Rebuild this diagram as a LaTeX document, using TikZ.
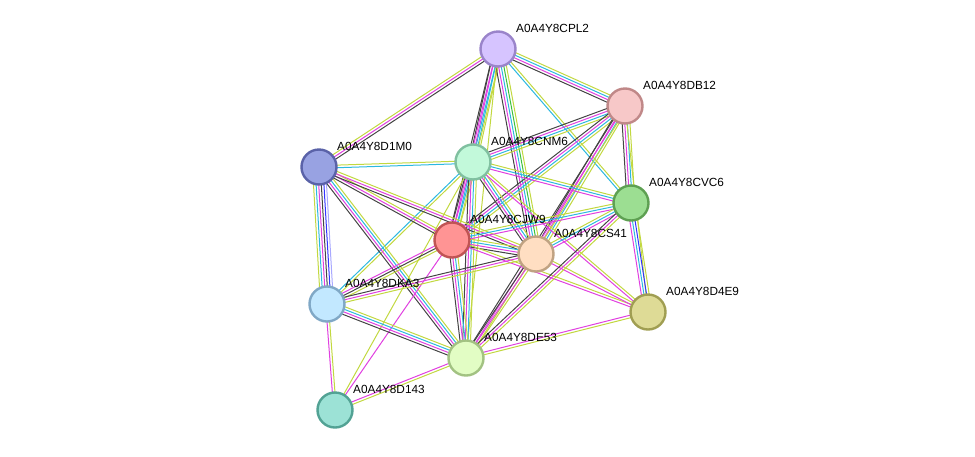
\documentclass[tikz,border=0pt]{standalone}
\usepackage{fontspec}
\setmainfont{Liberation Sans}
\usetikzlibrary{calc,backgrounds}

\definecolor{tm}{HTML}{C2D840}
\definecolor{ex}{HTML}{E040E0}
\definecolor{db}{HTML}{2CB8E0}
\definecolor{co}{HTML}{444444}
\definecolor{ne}{HTML}{3CC03C}
\definecolor{cc}{HTML}{3333FF}
\definecolor{ho}{HTML}{A8A8FF}

\tikzset{
  prot/.style={circle, minimum size=35pt, inner sep=0pt, line width=2.4pt},
  plabel/.style={anchor=west, inner sep=0pt, font=\fontsize{11.8}{13}\selectfont},
  linkline/.style={line width=1pt}
}

\newcommand{\link}[3]{%
  \foreach \c [count=\n] in {#3} {\xdef\linkn{\n}}%
  \foreach \c [count=\i] in {#3} {%
    \pgfmathsetmacro\off{(\i-(\linkn+1)/2)*2.6}%
    \draw[\c, linkline] ($(#1)!\off pt!90:(#2)$) -- ($(#2)!\off pt!-90:(#1)$);
  }%
}

\begin{document}
\begin{tikzpicture}[x=1pt,y=-1pt]
\useasboundingbox (0,0) rectangle (975,456);

\foreach \name/\x/\y/\f/\d/\t in {
  cpl/498/49/D6C4FF/9A84CA/A0A4Y8CPL2,
  dbt/625/106/F7C8C8/C08888/A0A4Y8DB12,
  cnm/473/162/C2F9DA/80C0A0/A0A4Y8CNM6,
  dm/319/167/98A2E2/5A62A8/A0A4Y8D1M0,
  cvc/631/203/9CDE92/5EA052/A0A4Y8CVC6,
  cjw/452/240/FF9494/C05454/A0A4Y8CJW9,
  csf/536/254/FFDEC2/C0A282/A0A4Y8CS41,
  dka/327/304/C2E8FF/80A8C6/A0A4Y8DKA3,
  dfe/648/312/DEDB96/A09E52/A0A4Y8D4E9,
  dfs/466/358/E2FDC4/A2C282/A0A4Y8DE53,
  dot/335/410/9CE2D6/52A294/A0A4Y8D143} {
  \definecolor{fill-\name}{HTML}{\f}
  \definecolor{draw-\name}{HTML}{\d}
  \node[prot, fill=fill-\name, draw=draw-\name] (\name) at (\x,\y) {};
  \node[plabel] (\name-l) at (\x+18,\y-21) {\t};
}

\begin{scope}[on background layer]
\link{cpl}{dm}{tm,ex,co}
\link{cpl}{cnm}{co,ex,db,tm}
\link{cpl}{cjw}{co,ex,db,tm}
\link{cpl}{csf}{co,ex,db,ne,tm}
\link{cpl}{dbt}{co,ex,db,tm}
\link{cpl}{cvc}{db,tm}
\link{cpl}{dfs}{tm}
\link{dbt}{cnm}{co,ex,db,tm}
\link{dbt}{cjw}{co,ex,db,tm}
\link{dbt}{csf}{co,ex,db,tm}
\link{dbt}{dfs}{co,ex,tm}
\link{dbt}{cvc}{co,ex,db,tm}
\link{dbt}{dfe}{tm}
\link{cnm}{dm}{tm,db}
\link{cnm}{cjw}{co,ex,db,tm}
\link{cnm}{csf}{co,ex,db,tm}
\link{cnm}{cvc}{ex,db,tm}
\link{cnm}{dfe}{ex,tm}
\link{cnm}{dka}{db,tm}
\link{cnm}{dfs}{co,ex,db,tm}
\link{cnm}{dot}{tm}
\link{dm}{dka}{tm,db,ex,co,cc,ho}
\link{dm}{cjw}{co,ex,tm}
\link{dm}{csf}{co,ex,tm}
\link{dm}{dfs}{co,ex,db,tm}
\link{cjw}{csf}{co,ex,db,tm}
\link{cjw}{cvc}{ex,db,tm}
\link{cjw}{dka}{ex,co,tm}
\link{cjw}{dfs}{co,ex,db,tm}
\link{cjw}{dot}{ex}
\link{cjw}{dfe}{ex,tm}
\link{csf}{cvc}{ex,db,tm}
\link{csf}{dfe}{ex,tm}
\link{csf}{dfs}{co,ex,tm}
\link{csf}{dka}{co,ex,tm}
\link{cvc}{dfe}{ex,db,cc,tm}
\link{cvc}{dfs}{co,ex,tm}
\link{dka}{dfs}{co,ex,db,tm}
\link{dka}{dot}{ex,tm}
\link{dfs}{dfe}{tm,ex}
\link{dfs}{dot}{ex,tm}
\end{scope}
\end{tikzpicture}
\end{document}
